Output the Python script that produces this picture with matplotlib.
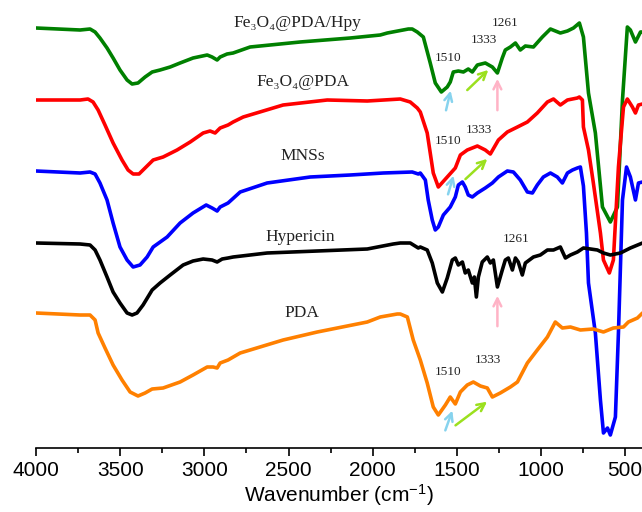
import matplotlib
matplotlib.use("Agg")
import matplotlib.pyplot as plt
from matplotlib.ticker import MultipleLocator

plt.rcParams['font.family'] = ['Liberation Sans', 'DejaVu Sans']
plt.rcParams['mathtext.fontset'] = 'custom'
plt.rcParams['mathtext.rm'] = 'Liberation Sans'
plt.rcParams['mathtext.it'] = 'Liberation Sans:italic'

# FTIR spectra, transmittance in arbitrary units (already stacked with offsets)
wn_hpy = [4000, 3738, 3679, 3649, 3620, 3578, 3542, 3501, 3459, 3429, 3394, 3352, 3310, 3263, 3203,
          3144, 3067, 2983, 2954, 2924, 2906, 2865, 2829, 2728, 2431, 2133, 1955, 1913, 1788, 1765,
          1735, 1699, 1658, 1628, 1592, 1557, 1539, 1521, 1491, 1461, 1432, 1408, 1378, 1331, 1289,
          1259, 1230, 1212, 1182, 1152, 1123, 1093, 1045, 992, 944, 885, 843, 807, 772, 748, 718,
          677, 635, 588, 546, 516, 487, 469, 439, 409, 397]
t_hpy = [420, 418, 419, 416, 410, 400, 390, 378, 368, 364, 365, 371, 376, 378, 381,
         385, 390, 393, 391, 388, 391, 394, 395, 401, 406, 410, 413, 415, 419, 419,
         416, 411, 385, 365, 356, 361, 366, 376, 377, 376, 379, 376, 383, 385, 381,
         375, 390, 398, 401, 405, 398, 402, 401, 411, 419, 415, 417, 420, 425, 411, 355,
         315, 241, 226, 241, 348, 421, 418, 406, 416, 416]

wn_pda_fe = [4000, 3738, 3691, 3661, 3631, 3590, 3542, 3489, 3453, 3423, 3388, 3352, 3304, 3245, 3162,
             3084, 3007, 2966, 2936, 2906, 2859, 2829, 2769, 2532, 2270, 2032, 1836, 1777, 1735, 1717,
             1676, 1640, 1610, 1557, 1509, 1479, 1438, 1378, 1331, 1301, 1253, 1200, 1140, 1081, 1022,
             962, 926, 885, 843, 784, 772, 754, 748, 718, 689, 647, 629, 594, 570, 540, 510, 487, 457,
             439, 421, 397]
t_pda_fe = [348, 348, 349, 346, 338, 323, 305, 288, 278, 274, 274, 280, 288, 291, 298,
            306, 315, 317, 315, 320, 323, 326, 331, 343, 348, 347, 349, 346, 340, 336,
            315, 275, 261, 271, 280, 293, 298, 302, 298, 294, 308, 316, 321, 326, 335,
            346, 349, 343, 348, 350, 351, 348, 321, 298, 265, 215, 188, 175, 188, 281, 341, 349, 341,
            335, 343, 344]

wn_mns = [4000, 3738, 3679, 3649, 3620, 3578, 3542, 3501, 3459, 3423, 3382, 3340, 3304, 3221, 3144,
          3067, 2989, 2954, 2924, 2906, 2859, 2787, 2627, 2371, 2133, 1937, 1765, 1729, 1717, 1687,
          1670, 1646, 1628, 1610, 1580, 1539, 1509, 1491, 1467, 1450, 1432, 1408, 1378, 1331, 1289,
          1253, 1200, 1164, 1123, 1081, 1051, 1022, 986, 944, 903, 873, 843, 813, 784, 766, 748,
          730, 718, 677, 647, 629, 605, 588, 558, 540, 516, 492, 469, 439, 421, 397]
t_mns = [277, 275, 276, 274, 265, 248, 225, 201, 188, 181, 183, 191, 201, 211, 225,
         235, 243, 240, 237, 241, 245, 256, 265, 271, 273, 275, 276, 274, 275, 268,
         248, 228, 218, 221, 233, 241, 251, 263, 266, 261, 253, 251, 255, 260, 265,
         271, 277, 276, 268, 256, 255, 263, 271, 275, 271, 265, 275, 278, 280, 281, 262,
         215, 165, 115, 48, 15, 20, 13, 31, 115, 248, 281, 271, 248, 265, 266]

wn_hyp = [4000, 3738, 3679, 3649, 3620, 3578, 3542, 3501, 3459, 3429, 3400, 3364, 3310, 3263, 3203,
          3126, 3067, 3007, 2954, 2924, 2894, 2859, 2829, 2627, 2329, 2032, 1878, 1836, 1777, 1729,
          1717, 1676, 1646, 1616, 1586, 1557, 1527, 1509, 1491, 1467, 1450, 1432, 1408, 1396, 1384,
          1372, 1349, 1319, 1301, 1283, 1259, 1230, 1212, 1194, 1170, 1152, 1135, 1111, 1093, 1045,
          1004, 962, 926, 885, 855, 825, 784, 748, 706, 665, 629, 588, 528, 469, 397]
t_hyp = [205, 204, 203, 198, 188, 171, 156, 145, 135, 133, 135, 143, 158, 165, 173,
         183, 187, 189, 188, 186, 189, 190, 191, 195, 197, 199, 204, 205, 205, 200,
         201, 198, 185, 165, 156, 170, 188, 190, 183, 186, 175, 178, 165, 171, 151,
         171, 186, 191, 185, 188, 161, 178, 188, 190, 178, 190, 186, 173, 185, 191,
         193, 198, 198, 201, 190, 193, 196, 200, 199, 198, 195, 193, 195, 200, 205]

wn_pda = [4000, 3738, 3679, 3649, 3631, 3590, 3542, 3489, 3441, 3394, 3352, 3310, 3245, 3144, 3067,
          2983, 2948, 2924, 2906, 2859, 2787, 2532, 2329, 2032, 1955, 1854, 1836, 1794, 1759, 1717,
          1676, 1640, 1610, 1568, 1539, 1509, 1479, 1438, 1402, 1360, 1319, 1289, 1242, 1182, 1140,
          1081, 1022, 962, 915, 873, 825, 766, 689, 629, 570, 510, 481, 427, 397]
t_pda = [135, 133, 133, 128, 115, 100, 83, 68, 56, 52, 55, 59, 60, 66, 73,
         81, 81, 80, 85, 88, 95, 108, 116, 126, 131, 134, 134, 131, 108, 88,
         65, 41, 33, 43, 51, 44, 56, 63, 66, 62, 60, 51, 55, 61, 66,
         85, 98, 111, 126, 120, 121, 118, 119, 116, 120, 121, 126, 130, 135]

series = [
    (wn_hpy, t_hpy, '#008000'),
    (wn_pda_fe, t_pda_fe, '#ff0000'),
    (wn_mns, t_mns, '#0000ff'),
    (wn_hyp, t_hyp, '#000000'),
    (wn_pda, t_pda, '#ff8000'),
]

# sample names and their positions (wavenumber, transmittance)
names = ['Fe₃O₄@PDA/Hpy', 'Fe₃O₄@PDA', 'MNSs', 'Hypericin', 'PDA']
name_pos = [(2448, 425), (2413, 366), (2413, 292), (2431, 211), (2419, 135)]

# band labels
bands = ['1510', '1333', '1261', '1510', '1333', '1261', '1510', '1333']
band_pos = [(1551, 390), (1337, 408), (1212, 425), (1551, 307), (1366, 318),
            (1146, 209), (1551, 76), (1313, 88)]

# arrows: (tail, head, colour)
arrows = [
    ((1568, 335), (1533, 360), '#87d3ee'),
    ((1450, 356), (1301, 380), '#9be01e'),
    ((1259, 335), (1259, 372), '#ffb3c6'),
    ((1557, 251), (1515, 275), '#87d3ee'),
    ((1461, 267), (1307, 291), '#9be01e'),
    ((1259, 119), (1259, 155), '#ffb3c6'),
    ((1574, 15), (1521, 40), '#87d3ee'),
    ((1521, 21), (1307, 48), '#9be01e'),
]

fig = plt.figure(figsize=(6.42, 5.12), dpi=100)
ax = fig.add_axes([36 / 642, 64 / 512, 606 / 642, 448 / 512])

for wn, t, c in series:
    ax.plot(wn, t, color=c, lw=2.6, solid_joinstyle='round', solid_capstyle='round')

serif = ['Liberation Serif', 'DejaVu Serif']
for name, (x, y) in zip(names, name_pos):
    ax.text(x, y, name, family=serif, fontsize=12.5, ha='center', va='center', color='#222222')

for b, (x, y) in zip(bands, band_pos):
    ax.text(x, y, b, family=serif, fontsize=9.5, ha='center', va='center', color='#222222')

for tail, head, c in arrows:
    ax.annotate('', xy=head, xytext=tail,
                arrowprops=dict(arrowstyle='->', color=c, lw=1.8, mutation_scale=14))

ax.set_xlim(4000, 400)
ax.set_ylim(0, 448)
ax.set_yticks([])
for s in ['left', 'right', 'top']:
    ax.spines[s].set_visible(False)
ax.spines['bottom'].set_linewidth(1.2)
ax.xaxis.set_major_locator(MultipleLocator(500))
ax.xaxis.set_minor_locator(MultipleLocator(250))
ax.tick_params(axis='x', which='major', direction='out', length=6, width=1.2, labelsize=15, pad=3)
ax.tick_params(axis='x', which='minor', direction='out', length=3.5, width=1.2)
ax.set_xlabel('Wavenumber (cm$^{-1}$)', fontsize=15, labelpad=2)

fig.savefig('out.png', dpi=100)
